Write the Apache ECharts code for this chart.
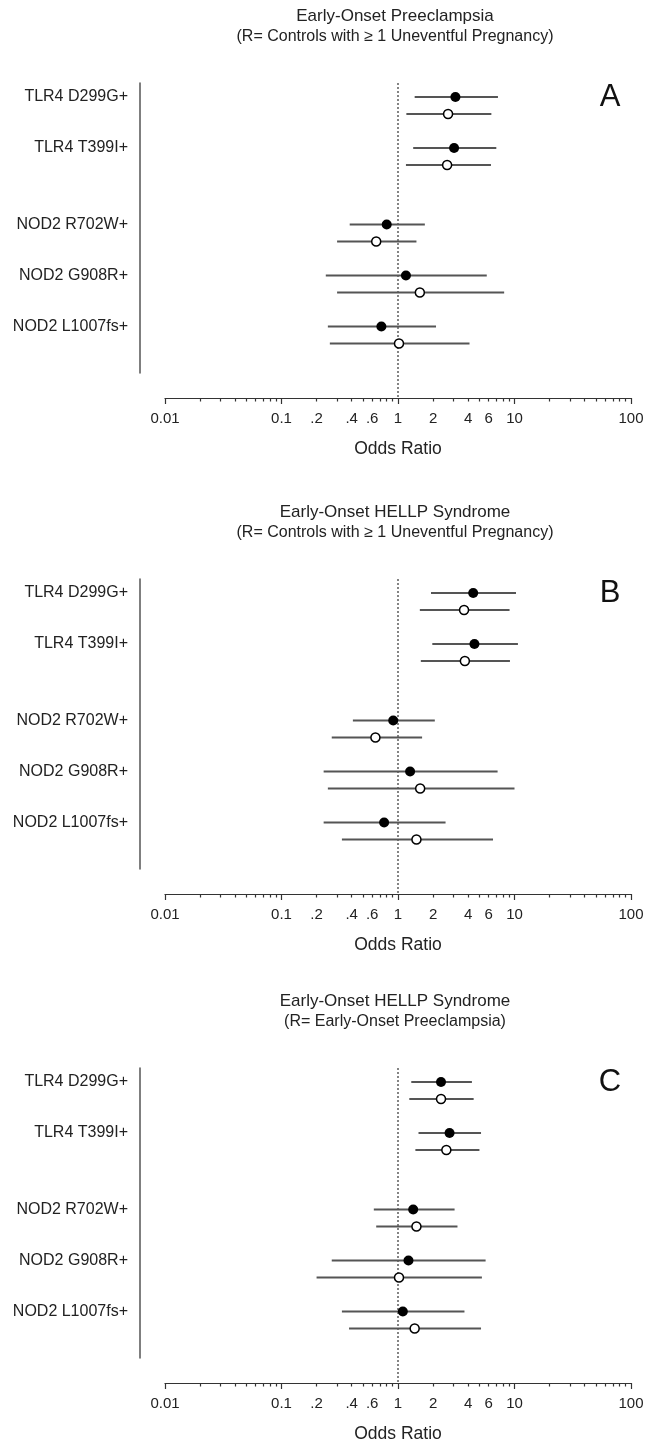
<!DOCTYPE html>
<html>
<head>
<meta charset="utf-8">
<script src="https://cdn.jsdelivr.net/npm/echarts@6/dist/echarts.min.js"></script>
<style>
html, body { margin: 0; padding: 0; background: #fff; }
#main { width: 647px; height: 1441px; }
</style>
</head>
<body>
<div id="main"></div>
<script>
// ---- data ----
var variants = ['TLR4 D299G+', 'TLR4 T399I+', 'NOD2 R702W+', 'NOD2 G908R+', 'NOD2 L1007fs+'];

var panelTitles = ['Early-Onset Preeclampsia', 'Early-Onset HELLP Syndrome', 'Early-Onset HELLP Syndrome'];
var panelSubtitles = [
    '(R= Controls with \u2265 1 Uneventful Pregnancy)',
    '(R= Controls with \u2265 1 Uneventful Pregnancy)',
    '(R= Early-Onset Preeclampsia)'
];
var panelLetters = ['A', 'B', 'C'];

// panel A  (filled / open markers)
var orA_filled = [3.11, 3.03, 0.80, 1.17, 0.72];
var loA_filled = [1.39, 1.35, 0.385, 0.24, 0.25];
var hiA_filled = [7.21, 6.98, 1.70, 5.78, 2.12];
var orA_open = [2.69, 2.64, 0.65, 1.54, 1.02];
var loA_open = [1.18, 1.17, 0.30, 0.30, 0.26];
var hiA_open = [6.33, 6.28, 1.44, 8.15, 4.11];

// panel B
var orB_filled = [4.42, 4.53, 0.91, 1.27, 0.76];
var loB_filled = [1.92, 1.97, 0.41, 0.23, 0.23];
var hiB_filled = [10.3, 10.7, 2.07, 7.16, 2.56];
var orB_open = [3.69, 3.75, 0.64, 1.55, 1.44];
var loB_open = [1.54, 1.57, 0.27, 0.25, 0.33];
var hiB_open = [9.07, 9.14, 1.61, 10.0, 6.54];

// panel C
var orC_filled = [2.34, 2.77, 1.35, 1.23, 1.10];
var loC_filled = [1.30, 1.50, 0.62, 0.27, 0.33];
var hiC_filled = [4.31, 5.16, 3.06, 5.65, 3.72];
var orC_open = [2.34, 2.60, 1.44, 1.02, 1.39];
var loC_open = [1.25, 1.41, 0.65, 0.20, 0.38];
var hiC_open = [4.46, 5.00, 3.24, 5.25, 5.16];

// x axis
var tickValues = [0.01, 0.1, 0.2, 0.4, 0.6, 1, 2, 4, 6, 10, 100];
var tickLabels = ['0.01', '0.1', '.2', '.4', '.6', '1', '2', '4', '6', '10', '100'];
var refValue = 1;

var panels = [
    { filled: [orA_filled, loA_filled, hiA_filled], open: [orA_open, loA_open, hiA_open] },
    { filled: [orB_filled, loB_filled, hiB_filled], open: [orB_open, loB_open, hiB_open] },
    { filled: [orC_filled, loC_filled, hiC_filled], open: [orC_open, loC_open, hiC_open] }
];

// ---- layout ----
var FONT = '"Liberation Sans", Arial, Helvetica, sans-serif';
var AXIS_Y = [398, 894, 1383];   // x axis line of each panel
var UNIT = 17;                   // px per row step
var GRID_H = 290;
var AXIS_GAP = 25;
var Y_MIN = -14 / UNIT;
var Y_MAX = Y_MIN + GRID_H / UNIT;
var Y_AXIS = Y_MAX + AXIS_GAP / UNIT;

var log10 = function (v) { return Math.log(v) / Math.LN10; };

// row positions: 3 steps per variant, extra gap between genes
var rowY = [];
var extra = 0;
variants.forEach(function (v, i) {
    if (i > 0 && v.split(' ')[0] !== variants[i - 1].split(' ')[0]) extra += 1.5;
    rowY.push(i * 3 + extra);
});

var majorTicks = [-2, -1, 0, 1, 2];
var minorTicks = [];
for (var d = -2; d < 2; d++) {
    for (var m = 2; m <= 9; m++) minorTicks.push(d + log10(m));
}
var labelPos = tickValues.map(log10);

var chart = echarts.init(document.getElementById('main'), null, { renderer: 'canvas' });

var grid = [], xAxis = [], yAxis = [], series = [], title = [];

panels.forEach(function (p, i) {
    var axisY = AXIS_Y[i];
    var top = axisY - AXIS_GAP - GRID_H;

    grid.push({ left: 165, right: 16, top: top, height: GRID_H, outerBoundsMode: 'none' });

    title.push({
        text: panelTitles[i], subtext: panelSubtitles[i],
        left: 395, top: axisY - 390, textAlign: 'center', padding: 0, itemGap: 4,
        textStyle: { fontFamily: FONT, fontSize: 17, fontWeight: 'normal', color: '#222' },
        subtextStyle: { fontFamily: FONT, fontSize: 16, color: '#222' }
    });
    title.push({
        text: panelLetters[i], left: 610, top: axisY - 316, textAlign: 'center', padding: 0,
        textStyle: { fontFamily: FONT, fontSize: 31, fontWeight: 'normal', color: '#111' }
    });

    xAxis.push({
        gridIndex: i, type: 'value', min: -2, max: 2, position: 'bottom', offset: AXIS_GAP,
        name: 'Odds Ratio', nameLocation: 'middle', nameGap: 42, nameMoveOverlap: false,
        nameTextStyle: { fontFamily: FONT, fontSize: 17.5, color: '#222' },
        axisLine: { show: true, onZero: false, lineStyle: { color: '#333', width: 1.2 } },
        axisTick: { show: true, inside: false, length: 6, customValues: majorTicks, lineStyle: { color: '#333', width: 1.2 } },
        axisLabel: {
            show: true, margin: 13, customValues: labelPos, showMinLabel: true, showMaxLabel: true,
            fontFamily: FONT, fontSize: 15, color: '#222',
            formatter: function (v) {
                for (var k = 0; k < labelPos.length; k++) {
                    if (Math.abs(labelPos[k] - v) < 1e-6) return tickLabels[k];
                }
                return '';
            }
        },
        splitLine: { show: false }
    });
    xAxis.push({
        gridIndex: i, type: 'value', min: -2, max: 2, position: 'bottom', offset: AXIS_GAP,
        axisLine: { show: false, onZero: false },
        axisTick: { show: true, inside: false, length: 3.5, customValues: minorTicks, lineStyle: { color: '#333', width: 1.2 } },
        axisLabel: { show: false },
        splitLine: { show: false }
    });

    yAxis.push({
        gridIndex: i, type: 'value', inverse: true, min: Y_MIN, max: Y_MAX,
        position: 'left', offset: 25,
        axisLine: { show: true, onZero: false, lineStyle: { color: '#555', width: 1.5 } },
        axisTick: { show: false },
        splitLine: { show: false },
        axisLabel: {
            show: true, margin: 12, customValues: rowY, showMinLabel: true, showMaxLabel: true,
            fontFamily: FONT, fontSize: 16, color: '#222', align: 'right',
            formatter: function (v) {
                var k = rowY.indexOf(v);
                return k >= 0 ? variants[k] : '';
            }
        }
    });

    var xi = i * 2;

    // reference line at OR = 1, runs down to the x axis
    series.push({
        type: 'line', xAxisIndex: xi, yAxisIndex: i, clip: false, silent: true, symbol: 'none', z: 1,
        data: [[log10(refValue), Y_MIN], [log10(refValue), Y_AXIS]],
        lineStyle: { color: '#222', width: 1.1, type: [2, 2] }
    });

    var bars = [];
    ['filled', 'open'].forEach(function (kind, j) {
        var s = p[kind];
        variants.forEach(function (v, k) {
            bars.push([log10(s[1][k]), log10(s[2][k]), rowY[k] + j]);
        });
    });
    series.push({
        type: 'custom', xAxisIndex: xi, yAxisIndex: i, silent: true, z: 2,
        encode: { x: [0, 1], y: 2 },
        data: bars,
        renderItem: function (params, api) {
            var a = api.coord([api.value(0), api.value(2)]);
            var b = api.coord([api.value(1), api.value(2)]);
            return {
                type: 'line',
                shape: { x1: a[0], y1: a[1], x2: b[0], y2: b[1] },
                style: { stroke: '#555', lineWidth: 1.8 }
            };
        }
    });

    series.push({
        type: 'scatter', xAxisIndex: xi, yAxisIndex: i, silent: true, z: 3,
        symbol: 'circle', symbolSize: 10,
        itemStyle: { color: '#000', opacity: 1 },
        data: variants.map(function (v, k) { return [log10(p.filled[0][k]), rowY[k]]; })
    });
    series.push({
        type: 'scatter', xAxisIndex: xi, yAxisIndex: i, silent: true, z: 3,
        symbol: 'circle', symbolSize: 9,
        itemStyle: { color: '#fff', borderColor: '#000', borderWidth: 1.5, opacity: 1 },
        data: variants.map(function (v, k) { return [log10(p.open[0][k]), rowY[k] + 1]; })
    });
});

chart.setOption({
    animation: false,
    backgroundColor: '#fff',
    textStyle: { fontFamily: FONT },
    title: title,
    grid: grid,
    xAxis: xAxis,
    yAxis: yAxis,
    series: series
});
</script>
</body>
</html>
